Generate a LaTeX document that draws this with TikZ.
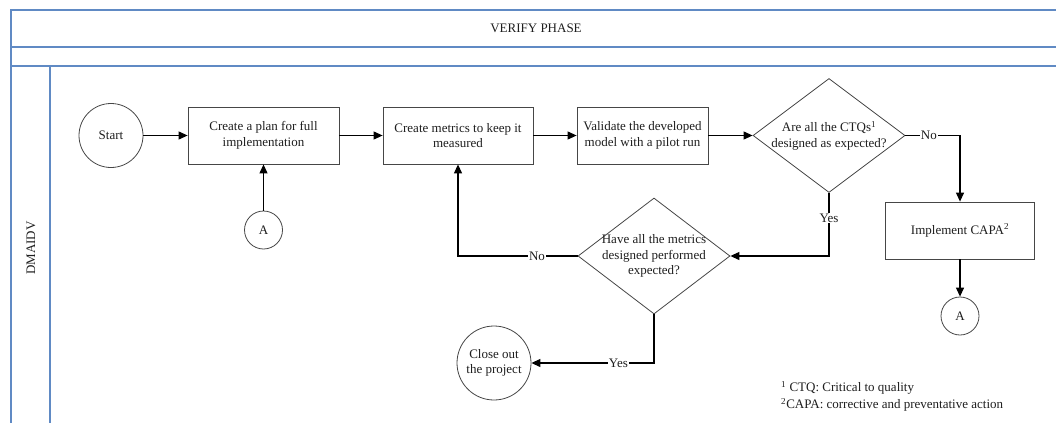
\documentclass[tikz,border=0pt]{standalone}
\usepackage{fontspec}
\setmainfont{Liberation Serif}
\newfontfamily\lserif{Liberation Serif}
\usetikzlibrary{shapes.geometric,arrows.meta}
\definecolor{lanec}{RGB}{96,138,196}
\definecolor{ink}{RGB}{30,30,30}
\definecolor{edge}{RGB}{70,70,70}
\begin{document}
\begin{tikzpicture}[x=1pt,y=-1pt,
  font=\lserif\fontsize{13}{15.6}\selectfont,
  lane/.style={draw=lanec,line width=1.4pt},
  procbox/.style={draw=edge,line width=0.8pt,rectangle,align=center,inner sep=0pt,text=ink},
  termc/.style={draw=edge,line width=0.8pt,circle,align=center,inner sep=0pt,text=ink},
  dia/.style={draw=edge,line width=0.8pt,diamond,inner sep=0pt},
  txt/.style={align=center,inner sep=0pt,text=ink},
  conn/.style={draw=black,line width=1.1pt,-{Triangle[length=9pt,width=8pt]}},
  lbl/.style={fill=white,inner sep=1pt,text=ink}
]
\useasboundingbox (0,0) rectangle (1056,423);
% swimlane frame
\draw[lane] (1056,10) -- (11,10) -- (11,423);
\draw[lane] (11,47) -- (1056,47);
\draw[lane] (11,66) -- (1056,66);
\draw[lane] (50,66) -- (50,423);
\node[txt] (title) at (536,28) {VERIFY PHASE};
\node[txt,rotate=90] (lanename) at (31,248) {DMAIDV};
% nodes
\node[termc,minimum size=64pt] (start) at (111,135.5) {Start};
\node[procbox,minimum width=151pt,minimum height=57pt] (plan) at (263.5,135.5) {Create a plan for full\\implementation};
\node[procbox,minimum width=150pt,minimum height=57pt] (metrics) at (458,135.5) {Create metrics to keep it\\measured};
\node[procbox,minimum width=131pt,minimum height=57pt] (validate) at (642.5,135.5) {Validate the developed\\model with a pilot run};
\node[dia,minimum width=152pt,minimum height=114pt,aspect=1.333] (d1) at (829,135.5) {};
\node[txt] (d1t) at (d1.center) {Are all the CTQs\textsuperscript{1}\\designed as expected?};
\node[procbox,minimum width=149pt,minimum height=57pt] (capa) at (960,230.5) {Implement CAPA\textsuperscript{2}};
\node[termc,minimum size=38pt] (a2) at (960,316) {A};
\node[termc,minimum size=38pt] (a1) at (263.5,230) {A};
\node[dia,minimum width=152pt,minimum height=116pt,aspect=1.31] (d2) at (654,256) {};
\node[txt] (d2t) at (d2.center) {Have all the metrics\\designed performed\\expected?};
\node[termc,minimum size=74pt] (close) at (494,363) {Close out\\the project};
% footnotes
\node[txt,anchor=west] (fn1) at (781,388) {\textsuperscript{1} CTQ: Critical to quality};
\node[txt,anchor=west] (fn2) at (781,405) {\textsuperscript{2}CAPA: corrective and preventative action};
% connectors
\draw[conn] (start) -- (plan);
\draw[conn] (a1) -- (plan);
\draw[conn] (plan) -- (metrics);
\draw[conn] (metrics) -- (validate);
\draw[conn] (validate) -- (d1.west);
\draw[conn] (d1.east) -- node[lbl,pos=0.43]{No} (d1.east -| capa.north) -- (capa.north);
\draw[conn] (capa) -- (a2);
\draw[conn] (d1.south) -- node[lbl,pos=0.4]{Yes} (d1.south |- d2.east) -- (d2.east);
\draw[conn] (d2.west) -- node[lbl,pos=0.34]{No} (metrics.south |- d2.west) -- (metrics.south);
\draw[conn] (d2.south) -- (d2.south |- close.east) -- node[lbl,pos=0.29]{Yes} (close.east);
\end{tikzpicture}
\end{document}
